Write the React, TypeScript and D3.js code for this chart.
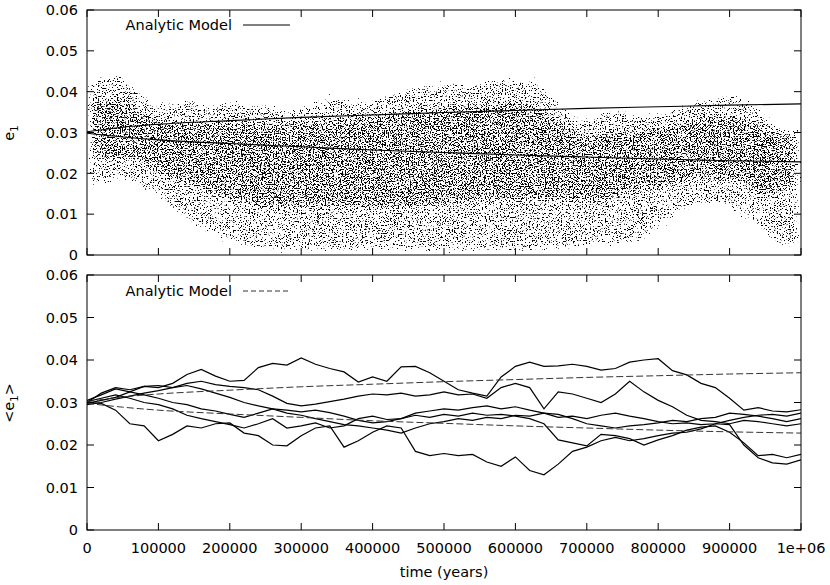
import React from 'react';
import * as d3 from 'd3';

// ---------- data ----------
// random-walk samples (time in years)
const walkTimes = [0,20000,40000,60000,80000,100000,120000,140000,160000,180000,200000,220000,240000,260000,280000,300000,320000,340000,360000,380000,400000,420000,440000,460000,480000,500000,520000,540000,560000,580000,600000,620000,640000,660000,680000,700000,720000,740000,760000,780000,800000,820000,840000,860000,880000,900000,920000,940000,960000,980000,1000000];
const walkA = [0.0300,0.0322,0.0335,0.0330,0.0338,0.0335,0.0345,0.0366,0.0378,0.0362,0.0350,0.0352,0.0382,0.0392,0.0388,0.0405,0.0390,0.0380,0.0372,0.0348,0.0360,0.0350,0.0384,0.0385,0.0370,0.0350,0.0330,0.0322,0.0315,0.0360,0.0385,0.0395,0.0385,0.0386,0.0390,0.0385,0.0376,0.0380,0.0395,0.0400,0.0403,0.0375,0.0365,0.0345,0.0335,0.0310,0.0282,0.0288,0.0280,0.0278,0.0283];
const walkB = [0.0305,0.0318,0.0332,0.0325,0.0338,0.0340,0.0335,0.0345,0.0350,0.0342,0.0338,0.0335,0.0330,0.0315,0.0298,0.0292,0.0296,0.0302,0.0308,0.0315,0.0320,0.0318,0.0322,0.0315,0.0318,0.0325,0.0318,0.0320,0.0310,0.0335,0.0345,0.0335,0.0285,0.0325,0.0320,0.0310,0.0300,0.0320,0.0350,0.0325,0.0305,0.0290,0.0270,0.0258,0.0255,0.0250,0.0258,0.0255,0.0250,0.0245,0.0250];
const walkC = [0.0298,0.0305,0.0312,0.0325,0.0318,0.0310,0.0300,0.0295,0.0285,0.0280,0.0272,0.0265,0.0275,0.0285,0.0282,0.0278,0.0282,0.0276,0.0268,0.0258,0.0252,0.0255,0.0262,0.0275,0.0280,0.0285,0.0282,0.0288,0.0292,0.0285,0.0290,0.0282,0.0275,0.0265,0.0268,0.0262,0.0270,0.0275,0.0268,0.0262,0.0255,0.0250,0.0252,0.0248,0.0250,0.0258,0.0265,0.0270,0.0272,0.0268,0.0275];
const walkD = [0.0295,0.0300,0.0308,0.0315,0.0322,0.0328,0.0335,0.0340,0.0332,0.0322,0.0312,0.0300,0.0292,0.0285,0.0275,0.0270,0.0262,0.0255,0.0248,0.0245,0.0240,0.0235,0.0228,0.0240,0.0250,0.0255,0.0262,0.0258,0.0265,0.0262,0.0270,0.0268,0.0275,0.0272,0.0262,0.0250,0.0245,0.0240,0.0245,0.0248,0.0252,0.0258,0.0255,0.0262,0.0265,0.0275,0.0272,0.0268,0.0262,0.0255,0.0262];
const walkE = [0.0302,0.0310,0.0318,0.0310,0.0300,0.0295,0.0285,0.0270,0.0262,0.0255,0.0248,0.0240,0.0250,0.0262,0.0240,0.0245,0.0252,0.0240,0.0245,0.0262,0.0268,0.0260,0.0262,0.0270,0.0265,0.0272,0.0268,0.0275,0.0270,0.0272,0.0268,0.0262,0.0250,0.0212,0.0205,0.0198,0.0225,0.0222,0.0215,0.0200,0.0212,0.0222,0.0235,0.0242,0.0245,0.0230,0.0205,0.0175,0.0178,0.0170,0.0178];
const walkF = [0.0300,0.0298,0.0282,0.0250,0.0245,0.0210,0.0225,0.0245,0.0240,0.0250,0.0252,0.0228,0.0222,0.0200,0.0198,0.0222,0.0240,0.0245,0.0195,0.0210,0.0230,0.0245,0.0240,0.0185,0.0175,0.0180,0.0175,0.0178,0.0160,0.0150,0.0172,0.0140,0.0130,0.0155,0.0185,0.0195,0.0210,0.0218,0.0210,0.0215,0.0222,0.0228,0.0230,0.0238,0.0250,0.0248,0.0200,0.0170,0.0158,0.0155,0.0165];
const walks = [walkA, walkB, walkC, walkD, walkE, walkF];

// analytic model
const modelTimes = [0,50000,100000,200000,300000,400000,500000,600000,700000,800000,900000,1000000];
const modelUpper = [0.0302,0.0313,0.0320,0.0329,0.0337,0.0343,0.0349,0.0354,0.0359,0.0363,0.0367,0.0370];
const modelLower = [0.0298,0.0289,0.0282,0.0273,0.0265,0.0257,0.0251,0.0245,0.0240,0.0235,0.0231,0.0228];

// scatter cloud extent (e1)
const envTimes = [0,25000,50000,75000,100000,125000,150000,175000,200000,225000,250000,275000,300000,325000,350000,375000,400000,425000,450000,475000,500000,525000,550000,575000,600000,625000,650000,675000,700000,725000,750000,775000,800000,825000,850000,875000,900000,925000,950000,975000,1000000];
const envUpper = [0.0430,0.0440,0.0445,0.0405,0.0375,0.0380,0.0385,0.0370,0.0385,0.0375,0.0370,0.0360,0.0370,0.0385,0.0395,0.0380,0.0385,0.0400,0.0410,0.0420,0.0430,0.0420,0.0430,0.0437,0.0432,0.0437,0.0400,0.0350,0.0335,0.0360,0.0360,0.0345,0.0350,0.0370,0.0380,0.0390,0.0397,0.0385,0.0350,0.0300,0.0360];
const envLower = [0.0170,0.0170,0.0180,0.0160,0.0140,0.0100,0.0070,0.0045,0.0030,0.0015,0.0010,0.0005,0.0005,0.0005,0.0005,0.0005,0.0005,0.0005,0.0005,0.0005,0.0005,0.0005,0.0005,0.0005,0.0005,0.0005,0.0010,0.0010,0.0015,0.0020,0.0020,0.0030,0.0060,0.0095,0.0115,0.0118,0.0110,0.0080,0.0045,0.0010,0.0030];
const coreTimes = [0,50000,100000,150000,200000,250000,300000,350000,400000,450000,500000,550000,600000,650000,700000,750000,800000,850000,900000,950000,1000000];
const coreUpper = [0.039,0.040,0.035,0.034,0.034,0.034,0.034,0.035,0.036,0.037,0.038,0.039,0.039,0.036,0.031,0.032,0.033,0.035,0.036,0.033,0.030];
const coreLower = [0.022,0.022,0.019,0.015,0.012,0.010,0.010,0.010,0.010,0.010,0.011,0.012,0.012,0.012,0.011,0.013,0.015,0.017,0.017,0.013,0.016];

const yTicks = [0, 0.01, 0.02, 0.03, 0.04, 0.05, 0.06];
const xTicks = [0,100000,200000,300000,400000,500000,600000,700000,800000,900000,1000000];
const xTickLabels = ['0','100000','200000','300000','400000','500000','600000','700000','800000','900000','1e+06'];

// ---------- layout ----------
const W = 830, H = 585;
const X0 = 87, X1 = 801;
const TOP = { y0: 10, y1: 255 };
const BOT = { y0: 275, y1: 530 };
const TICK = 7;
const FONT = 'DejaVu Sans, Liberation Sans, sans-serif';
const FS = 14.5;

const x = d3.scaleLinear().domain([0, 1e6]).range([X0, X1]);
const yTop = d3.scaleLinear().domain([0, 0.06]).range([TOP.y1, TOP.y0]);
const yBot = d3.scaleLinear().domain([0, 0.06]).range([BOT.y1, BOT.y0]);

function Frame({ y, y0, y1, showX }: { y: d3.ScaleLinear<number, number>; y0: number; y1: number; showX: boolean }) {
  return (
    <g>
      <rect x={X0} y={y0} width={X1 - X0} height={y1 - y0} fill="none" stroke="#000" strokeWidth={1} />
      {yTicks.map((v) => (
        <g key={'y' + v}>
          <line x1={X0} x2={X0 + TICK} y1={y(v)} y2={y(v)} stroke="#000" />
          <line x1={X1} x2={X1 - TICK} y1={y(v)} y2={y(v)} stroke="#000" />
          <text x={78} y={y(v)} dy="0.36em" textAnchor="end" fontFamily={FONT} fontSize={FS} fill="#000">
            {v === 0 ? '0' : v.toFixed(2)}
          </text>
        </g>
      ))}
      {xTicks.map((t, i) => (
        <g key={'x' + t}>
          <line x1={x(t)} x2={x(t)} y1={y1} y2={y1 - TICK} stroke="#000" />
          <line x1={x(t)} x2={x(t)} y1={y0} y2={y0 + TICK} stroke="#000" />
          {showX && (
            <text x={x(t)} y={553} textAnchor="middle" fontFamily={FONT} fontSize={FS} fill="#000">
              {xTickLabels[i]}
            </text>
          )}
        </g>
      ))}
    </g>
  );
}

// speckle texture: noise thresholded inside a softened copy of the shape
function Speckle({ id, level, blur }: { id: string; level: number; blur: number }) {
  return (
    <filter id={id} filterUnits="userSpaceOnUse" x={0} y={0} width={W} height={H} colorInterpolationFilters="sRGB">
      <feGaussianBlur in="SourceAlpha" stdDeviation={blur} result="b" />
      <feTurbulence type="fractalNoise" baseFrequency="0.75" numOctaves={2} seed={11} result="n0" />
      <feColorMatrix in="n0" type="matrix" values="0 0 0 0 0  0 0 0 0 0  0 0 0 0 0  1 0 0 0 0" result="n" />
      <feComposite in="b" in2="n" operator="arithmetic" k1={0} k2={16 * level} k3={-16} k4={0} />
    </filter>
  );
}

export default function App() {
  const band = (times: number[], lo: number[], hi: number[]) =>
    d3
      .area<number>()
      .x((_, i) => x(times[i]))
      .y0((_, i) => yTop(lo[i]))
      .y1((_, i) => yTop(hi[i]))
      .curve(d3.curveMonotoneX)(times) || '';

  const modelLine = (y: d3.ScaleLinear<number, number>, vals: number[]) =>
    d3
      .line<number>()
      .x((_, i) => x(modelTimes[i]))
      .y((v) => y(v))
      .curve(d3.curveMonotoneX)(vals) || '';

  const walkLine = d3
    .line<number>()
    .x((_, i) => x(walkTimes[i]))
    .y((v) => yBot(v));

  return (
    <svg width={W} height={H} style={{ position: 'absolute', left: 0, top: 0, background: '#fff' }}>
      <defs>
        <Speckle id="sparse" level={0.41} blur={4} />
        <Speckle id="dense" level={0.49} blur={6} />
        <clipPath id="clipTop">
          <rect x={X0} y={TOP.y0} width={X1 - X0} height={TOP.y1 - TOP.y0} />
        </clipPath>
        <clipPath id="clipBot">
          <rect x={X0} y={BOT.y0} width={X1 - X0} height={BOT.y1 - BOT.y0} />
        </clipPath>
      </defs>

      {/* top panel: scatter cloud */}
      <g clipPath="url(#clipTop)">
        <path d={band(envTimes, envLower, envUpper)} fill="#000" filter="url(#sparse)" />
        <path d={band(coreTimes, coreLower, coreUpper)} fill="#000" filter="url(#dense)" />
        <path d={modelLine(yTop, modelUpper)} fill="none" stroke="#000" strokeWidth={1.1} />
        <path d={modelLine(yTop, modelLower)} fill="none" stroke="#000" strokeWidth={1.1} />
      </g>

      {/* bottom panel */}
      <g clipPath="url(#clipBot)">
        {walks.map((w, i) => (
          <path key={i} d={walkLine(w) || ''} fill="none" stroke="#000" strokeWidth={1.2} />
        ))}
        <path d={modelLine(yBot, modelUpper)} fill="none" stroke="#333" strokeWidth={1} strokeDasharray="7,3" />
        <path d={modelLine(yBot, modelLower)} fill="none" stroke="#333" strokeWidth={1} strokeDasharray="7,3" />
      </g>

      <Frame y={yTop} y0={TOP.y0} y1={TOP.y1} showX={false} />
      <Frame y={yBot} y0={BOT.y0} y1={BOT.y1} showX={true} />

      {/* legends */}
      <text x={232} y={30} textAnchor="end" fontFamily={FONT} fontSize={FS} fill="#000">Analytic Model</text>
      <line x1={243} x2={290} y1={25} y2={25} stroke="#000" strokeWidth={1} />
      <text x={232} y={296} textAnchor="end" fontFamily={FONT} fontSize={FS} fill="#000">Analytic Model</text>
      <line x1={243} x2={290} y1={291} y2={291} stroke="#333" strokeWidth={1} strokeDasharray="5,3" />

      {/* axis titles */}
      <text transform="translate(14,133) rotate(-90)" textAnchor="middle" fontFamily={FONT} fontSize={FS} fill="#000">
        e<tspan fontSize={10} dy={4}>1</tspan>
      </text>
      <text transform="translate(14,403) rotate(-90)" textAnchor="middle" fontFamily={FONT} fontSize={FS} fill="#000">
        &lt;e<tspan fontSize={10} dy={4}>1</tspan><tspan dy={-4}>&gt;</tspan>
      </text>
      <text x={444} y={577} textAnchor="middle" fontFamily={FONT} fontSize={FS} fill="#000">time (years)</text>
    </svg>
  );
}
